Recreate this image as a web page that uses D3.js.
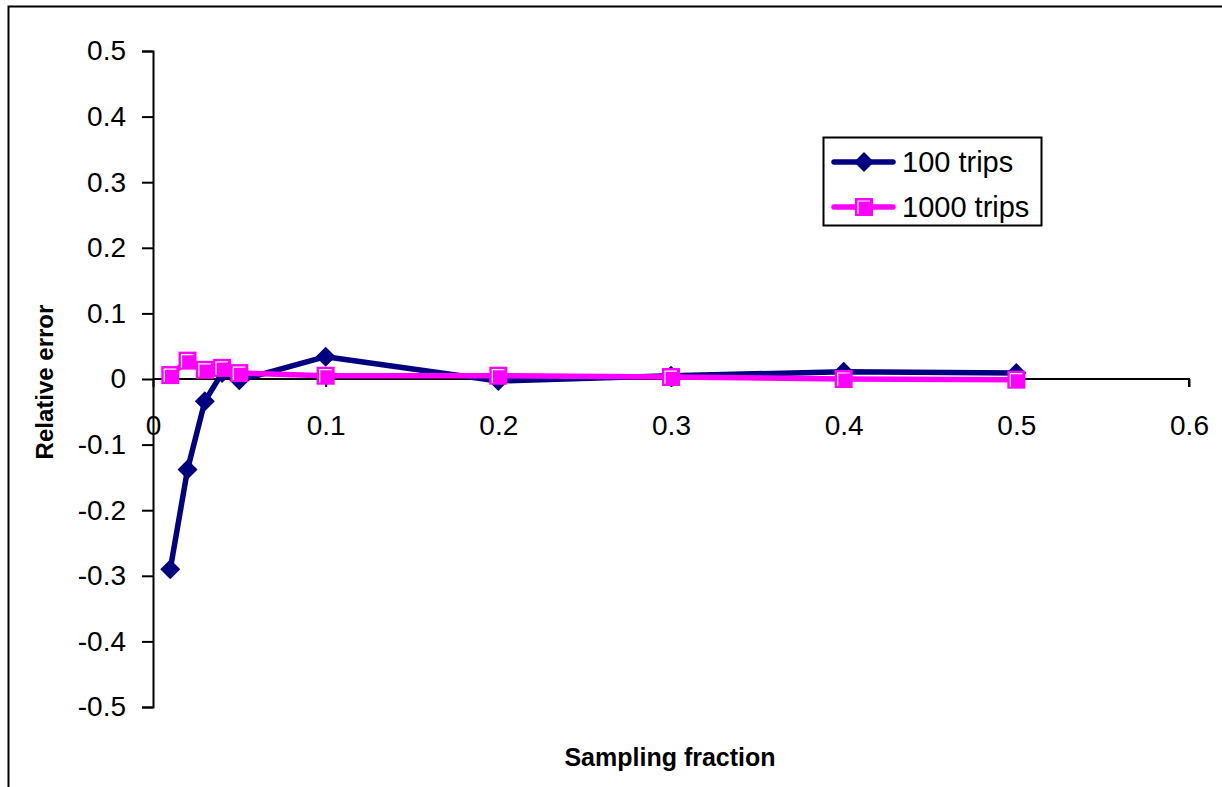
<!DOCTYPE html>
<html>
<head>
<meta charset="utf-8">
<script src="https://cdn.jsdelivr.net/npm/d3@7"></script>
<style>
  body { margin: 0; background: #fff; }
  text { font-family: "Liberation Sans", Arial, sans-serif; }
</style>
</head>
<body>
<svg width="1222" height="787"></svg>
<script>
// sampling fractions
const fractions = [0.01, 0.02, 0.03, 0.04, 0.05, 0.1, 0.2, 0.3, 0.4, 0.5];
// relative error
const trips100 = [-0.29, -0.138, -0.034, 0.009, -0.002, 0.034, -0.003, 0.005, 0.011, 0.009];
const trips1000 = [0.006, 0.028, 0.014, 0.017, 0.009, 0.005, 0.005, 0.003, 0.0, -0.001];
const xTicks = [0, 0.1, 0.2, 0.3, 0.4, 0.5, 0.6];
const yTicks = [-0.5, -0.4, -0.3, -0.2, -0.1, 0, 0.1, 0.2, 0.3, 0.4, 0.5];

let svg = d3.select("svg");

// outer chart frame
svg.append("rect")
    .attr("x", 8.5).attr("y", 6.5)
    .attr("width", 1230).attr("height", 800)
    .attr("fill", "none").attr("stroke", "#000").attr("stroke-width", 2);

let x = d3.scaleLinear().domain([0, 0.6]).range([153, 1189]);
let y = d3.scaleLinear().domain([-0.5, 0.5]).range([707, 51]);

// y axis
let yAxis = svg.append("g")
    .attr("transform", "translate(153,0)")
    .call(d3.axisLeft(y).tickValues(yTicks).tickSize(11).tickPadding(16)
        .tickFormat(d => d === 0 ? "0" : d3.format(".1f")(d).replace("−", "-")));
yAxis.select(".domain").attr("stroke-width", 2).attr("d", "M-11,51.5H0.5V707.5H-11");
yAxis.selectAll(".tick line").attr("stroke-width", 2);
yAxis.selectAll(".tick text").attr("font-size", 28).attr("fill", "#000");

// x axis at y = 0
let xAxis = svg.append("g")
    .attr("transform", `translate(0,${y(0)})`)
    .call(d3.axisBottom(x).tickValues(xTicks).tickSize(8).tickPadding(28)
        .tickFormat(d => d === 0 ? "0" : d3.format(".1f")(d)));
xAxis.select(".domain").attr("stroke-width", 2).attr("d", "M153,0H1189V8");
xAxis.selectAll(".tick line").attr("stroke-width", 2);
xAxis.selectAll(".tick text").attr("font-size", 28).attr("fill", "#000");

// axis titles
svg.append("text")
    .attr("x", 670).attr("y", 766)
    .attr("text-anchor", "middle")
    .attr("font-size", 25).attr("font-weight", "bold")
    .text("Sampling fraction");
svg.append("text")
    .attr("transform", "translate(53,382) rotate(-90)")
    .attr("text-anchor", "middle")
    .attr("font-size", 24).attr("font-weight", "bold")
    .text("Relative error");

let line = d3.line().x(d => x(d[0])).y(d => y(d[1]));

let series = [
    { name: "100 trips", values: trips100, color: "#000080", marker: "diamond" },
    { name: "1000 trips", values: trips1000, color: "#ff00ff", marker: "square" }
];

function drawMarker(g, type, color) {
    if (type === "diamond") {
        g.append("path")
            .attr("d", "M0,-10L10,0L0,10L-10,0Z")
            .attr("fill", color);
    } else {
        g.append("rect")
            .attr("x", -9).attr("y", -9).attr("width", 18).attr("height", 18)
            .attr("fill", color);
        g.append("path")
            .attr("d", "M-6,7V-6H6")
            .attr("fill", "none").attr("stroke", "#fff").attr("stroke-width", 1.2);
    }
}

series.forEach(s => {
    let pts = fractions.map((f, i) => [f, s.values[i]]);
    svg.append("path")
        .datum(pts)
        .attr("d", line)
        .attr("fill", "none")
        .attr("stroke", s.color)
        .attr("stroke-width", 5.5)
        .attr("stroke-linejoin", "round");
    svg.append("g").selectAll("g")
        .data(pts)
        .enter().append("g")
        .attr("transform", d => `translate(${x(d[0])},${y(d[1])})`)
        .each(function() { drawMarker(d3.select(this), s.marker, s.color); });
});

// legend
let legend = svg.append("g").attr("transform", "translate(823,137)");
legend.append("rect")
    .attr("x", 0.5).attr("y", 0.5).attr("width", 218).attr("height", 88)
    .attr("fill", "#fff").attr("stroke", "#000").attr("stroke-width", 2);
series.forEach((s, i) => {
    let row = legend.append("g").attr("transform", `translate(0,${25 + i * 45})`);
    row.append("line")
        .attr("x1", 11).attr("x2", 70)
        .attr("stroke", s.color).attr("stroke-width", 5.5).attr("stroke-linecap", "round");
    drawMarker(row.append("g").attr("transform", "translate(41,0)"), s.marker, s.color);
    row.append("text")
        .attr("x", 79).attr("y", 10)
        .attr("font-size", 29)
        .text(s.name);
});
</script>
</body>
</html>
